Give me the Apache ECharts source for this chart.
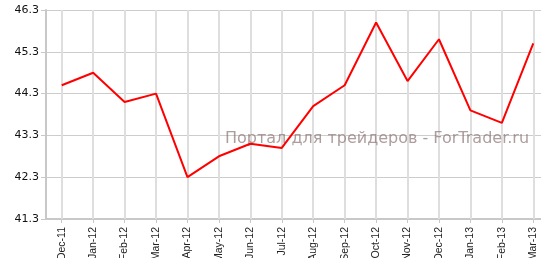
<!DOCTYPE html>
<html><head><meta charset="utf-8">
<script src="https://cdn.jsdelivr.net/npm/echarts@6/dist/echarts.min.js"></script>
<style>html,body{margin:0;padding:0;background:#fff}#c{width:541px;height:258px}</style>
</head><body><div id="c"></div>
<script>
const categories = ['Dec-11','Jan-12','Feb-12','Mar-12','Apr-12','May-12','Jun-12','Jul-12','Aug-12','Sep-12','Oct-12','Nov-12','Dec-12','Jan-13','Feb-13','Mar-13'];
const values = [44.5, 44.8, 44.1, 44.3, 42.3, 42.8, 43.1, 43.0, 44.0, 44.5, 46.0, 44.6, 45.6, 43.9, 43.6, 45.5];
const yMin = 41.3, yMax = 46.3, yStep = 1;
const watermark = 'Портал для трейдеров - ForTrader.ru';

const chart = echarts.init(document.getElementById('c'), null, {renderer:'canvas'});
chart.setOption({
  animation: false,
  backgroundColor: '#fff',
  grid: {left: 46, right: -8, top: 10, bottom: 39, containLabel: false, outerBoundsMode: 'none'},
  xAxis: {
    type: 'category', data: categories, boundaryGap: true,
    axisLine: {show: true, lineStyle: {color: '#c8c8c8', width: 2}},
    axisTick: {show: true, alignWithLabel: true, length: 4, lineStyle: {color: '#c8c8c8'}},
    axisLabel: {rotate: 90, margin: 8, fontSize: 10.5, color: '#222', fontFamily: 'Liberation Sans', interval: 0},
    splitLine: {show: false}
  },
  yAxis: {
    type: 'value', min: yMin, max: yMax, interval: yStep,
    axisLine: {show: true, lineStyle: {color: '#c8c8c8', width: 2}},
    axisTick: {show: true, length: 5, lineStyle: {color: '#c8c8c8'}},
    axisLabel: {margin: 7, fontSize: 11, color: '#111', fontFamily: 'DejaVu Sans', formatter: v => v.toFixed(1)},
    splitLine: {show: true, lineStyle: {color: '#cccccc', width: 1}}
  },
  graphic: [{
    type: 'text', left: 225, top: 131, z: 2,
    style: {text: watermark, fontSize: 16, fontFamily: 'DejaVu Sans', fill: 'rgba(140,115,115,0.7)'}
  }],
  series: [{
    type: 'line', data: [], z: 1, silent: true,
    markLine: {
      z: 1, silent: true, symbol: 'none', label: {show: false},
      lineStyle: {color: '#dedede', width: 2, type: 'solid'},
      data: categories.map(c => ({xAxis: c}))
    }
  }, {
    type: 'line', data: values, showSymbol: false, symbol: 'none',
    lineStyle: {color: '#ff0000', width: 2}, z: 3
  }]
});
</script></body></html>
